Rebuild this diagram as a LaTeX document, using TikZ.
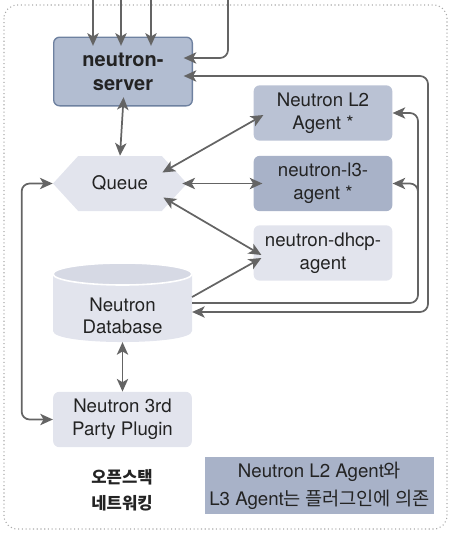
\documentclass[tikz,border=0pt]{standalone}
\usepackage{fontspec}
\setmainfont{TeX Gyre Heros}
\newfontfamily\krfont{Noto Sans CJK KR}
\usepackage{tikz}
\usetikzlibrary{shapes.geometric, shapes.symbols, calc, positioning}
\usetikzlibrary{arrows.meta}

\definecolor{srvfill}{RGB}{178,189,209}
\definecolor{srvline}{RGB}{110,129,160}
\definecolor{ltwofill}{RGB}{186,194,212}
\definecolor{lthreefill}{RGB}{168,178,200}
\definecolor{palefill}{RGB}{226,228,237}
\definecolor{dbtop}{RGB}{214,217,228}
\definecolor{linegray}{RGB}{100,100,100}
\definecolor{framegray}{RGB}{170,170,170}
\definecolor{txtgray}{RGB}{35,35,35}

\tikzset{
	box/.style={rounded corners=4.5pt, minimum width=104pt, minimum height=41.5pt, align=center, inner sep=1pt, text=txtgray, font=\fontsize{14}{17}\selectfont},
	link/.style={draw=linegray, line width=1.3pt},
	tipin/.style={shorten >=-7pt},
	tipout/.style={shorten <=-7pt}
}

\begin{document}
\begin{tikzpicture}[x=0.75pt,y=0.75pt,yscale=-1,xscale=1,>={Stealth[length=9.5pt,width=8.5pt,inset=2.5pt]}]
		\useasboundingbox (0,0) rectangle (456,536);

		%Frame: dotted outline
		\draw [dotted, framegray, line width=0.8pt, rounded corners=10pt] (4,5) rectangle (447,529);

		%Shape: neutron-server
		\node [box, fill=srvfill, draw=srvline, line width=1pt, minimum height=51.5pt, font=\bfseries\fontsize{15}{18}\selectfont] (server) at (123,71.5) {neutron-\\server};
		%Shape: agents
		\node [box, fill=ltwofill] (ltwo) at (323,113) {Neutron L2\\Agent *};
		\node [box, fill=lthreefill] (lthree) at (323,183.5) {neutron-l3-\\agent *};
		\node [box, fill=palefill] (dhcp) at (323,253) {neutron-dhcp-\\agent};
		%Shape: Queue
		\node [shape=signal, signal to=east and west, signal pointer angle=95, fill=palefill, minimum width=100.5pt, minimum height=41.25pt, text=txtgray, font=\fontsize{14}{17}\selectfont] (queue) at (120,183.5) {Queue};
		%Shape: Database cylinder
		\fill [palefill] (53,274) -- (53,331) .. controls (53,345.7) and (192,345.7) .. (192,331) -- (192,274) -- cycle;
		\draw [white, line width=1.2pt, fill=dbtop] (122.5,274) ellipse [x radius=52.1pt, y radius=8.25pt];
		\node [minimum width=104pt, minimum height=59pt, inner sep=0pt,
			label={[align=center, text=txtgray, font=\fontsize{14}{17}\selectfont, yshift=-10pt]center:{Neutron\\Database}}] (db) at (122.5,302.5) {};
		%Shape: plugin
		\node [box, fill=palefill] (plugin) at (122.5,419.5) {Neutron 3rd\\Party Plugin};

		% Text Node
		\node [align=center, text=txtgray, font=\krfont\bfseries\fontsize{12.5}{19.5}\selectfont] (caption) at (122,490) {오픈스택\\네트워킹};
		% Text Node
		\node [fill=lthreefill, minimum width=167pt, minimum height=41pt, align=center, text=txtgray, font=\fontsize{14}{21}\selectfont] (note) at (319.5,485.5) {Neutron L2 Agent{\krfont 와}\\L3 Agent{\krfont 는 플러그인에 의존}};

		%Straight Lines: inputs from above
		\foreach \x in {93,121,151}
			\draw [link, ->, tipin] (\x,0) -- (server.north -| \x,0);
		\draw [link, ->, tipin, rounded corners=6pt] (228,0) |- (server.east |- 0,58);
		%Loop: server and database
		\draw [link, <->, tipout, rounded corners=6pt] (server.east |- 0,76) -| (428,312) -- (db.east |- 0,312);
		%Loop: database to agents
		\draw [link, ->, rounded corners=6pt] (db.east |- 0,303) -| (418,113) -- (ltwo.east);
		\draw [link, ->, rounded corners=6pt] (418,205) |- (lthree.east);
		%Straight Lines: queue
		\draw [link, <->, tipout] (server.south) -- (queue.north);
		\draw [link, <->] ($(queue.east)+(-25,-11)$) -- ($(ltwo.west)+(10,2)$);
		\draw [link, <->] ($(queue.east)+(-5,0)$) -- ($(lthree.west)+(9,0)$);
		\draw [link, <->] ($(queue.east)+(-24,14)$) -- ($(dhcp.west)+(8,2)$);
		\draw [link, ->] (db.east |- 0,297) -- ($(dhcp.west)+(8,5)$);
		\draw [link, <->, rounded corners=6pt] (queue.west) -- ++(-31,0) |- (plugin.west);
		\draw [link, <->] (db.south) -- (plugin.north);

	\end{tikzpicture}
\end{document}
